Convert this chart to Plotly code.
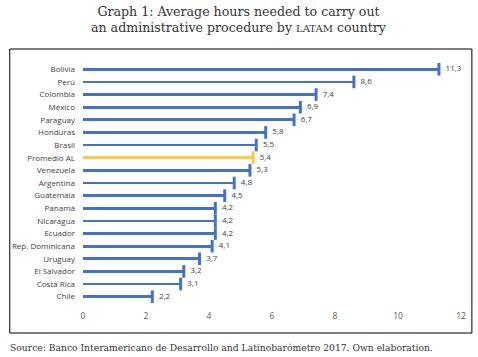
import plotly.graph_objects as go

countries = ["Bolivia", "Perú", "Colombia", "México", "Paraguay", "Honduras", "Brasil",
             "Promedio AL", "Venezuela", "Argentina", "Guatemala", "Panamá", "Nicaragua",
             "Ecuador", "Rep. Dominicana", "Uruguay", "El Salvador", "Costa Rica", "Chile"]
hours = [11.3, 8.6, 7.4, 6.9, 6.7, 5.8, 5.5, 5.4, 5.3, 4.8, 4.5, 4.2, 4.2, 4.2, 4.1, 3.7, 3.2, 3.1, 2.2]
x_ticks = [0, 2, 4, 6, 8, 10, 12]

BLUE = "#4472C4"
GOLD = "#FFC845"
colors = [GOLD if c == "Promedio AL" else BLUE for c in countries]
labels = [f"{v:.1f}".replace(".", ",") for v in hours]

W, H = 478, 357
L, R, T, B = 81, 15, 63, 54
PW, PH = W - L - R, H - T - B

def px(xpix):
    return (xpix - L) / PW

def py(ypix):
    return (H - B - ypix) / PH

fig = go.Figure()
fig.add_trace(go.Bar(
    x=hours, y=countries, orientation="h", width=0.22,
    marker=dict(color=colors, line=dict(width=0)), hoverinfo="skip",
))
fig.add_trace(go.Scatter(
    x=hours, y=countries, mode="markers+text", cliponaxis=False,
    marker=dict(symbol="line-ns", size=9, line=dict(width=3, color=colors)),
    text=labels, textposition="middle right",
    textfont=dict(family="Open Sans", size=8, color="#404040"),
))

fig.update_layout(
    width=W, height=H,
    margin=dict(l=L, r=R, t=T, b=B),
    paper_bgcolor="white", plot_bgcolor="white",
    showlegend=False, bargap=0,
    xaxis=dict(range=[0, 12], tickvals=x_ticks, showgrid=False, zeroline=False,
               showline=False, ticks="", ticklabelstandoff=6,
               tickfont=dict(family="Open Sans", size=8.5, color="#595959")),
    yaxis=dict(categoryorder="array", categoryarray=countries, range=[18.5, -0.5],
               showgrid=False, showline=False, ticks="", ticklabelstandoff=7,
               tickfont=dict(family="Open Sans", size=8, color="#404040")),
    shapes=[dict(type="rect", xref="paper", yref="paper",
                 x0=px(7), x1=px(474), y0=py(333), y1=py(49),
                 line=dict(color="black", width=1))],
    annotations=[
        dict(text="Graph 1: Average hours needed to carry out<br>an administrative procedure by <span style='font-size:10px'>LATAM</span> country",
             xref="paper", yref="paper", x=px(239), y=py(2), xanchor="center", yanchor="top",
             showarrow=False, align="center",
             font=dict(family="DejaVu Serif", size=12.6, color="#333333")),
        dict(text="Source: Banco Interamericano de Desarrollo and Latinobarómetro 2017. Own elaboration.",
             xref="paper", yref="paper", x=px(5), y=py(347),
             xanchor="left", yanchor="middle", showarrow=False,
             font=dict(family="DejaVu Serif", size=9.2, color="#333333")),
    ],
)

fig.write_html("out.html", config={"displayModeBar": False},
               post_script="document.body.style.margin='0';document.body.style.overflow='hidden';")
